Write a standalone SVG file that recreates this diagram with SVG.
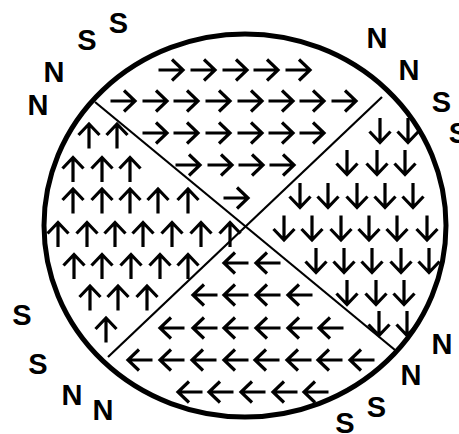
<svg xmlns="http://www.w3.org/2000/svg" xmlns:xlink="http://www.w3.org/1999/xlink" width="459" height="434" viewBox="0 0 459 434">
<style>
.a{fill:none;stroke:#000;stroke-width:3.2;stroke-linejoin:miter;stroke-linecap:butt}
.lbl{font-family:"Liberation Sans",Arial,sans-serif;font-weight:bold;font-size:29px;fill:#000;text-anchor:middle}
</style>
<defs>
<path id="r" class="a" d="M-12.5,0H11.5M1,-10.5L12,0L1,10.5"/>
<path id="l" class="a" d="M12.5,0H-11.5M-1,-10.5L-12,0L-1,10.5"/>
<path id="u" class="a" d="M0,12.5V-11.5M-10.5,-1L0,-12L10.5,-1"/>
<path id="d" class="a" d="M0,-12.5V11.5M-10.5,1L0,12L10.5,1"/>
</defs>
<rect width="459" height="434" fill="#fff"/>
<g id="circle">
<ellipse cx="245" cy="225.5" rx="201" ry="191.5" fill="none" stroke="#000" stroke-width="5"/>
<line x1="95" y1="102" x2="395" y2="350" stroke="#000" stroke-width="2.2"/>
<line x1="382" y1="97" x2="108" y2="357" stroke="#000" stroke-width="2.2"/>
</g>
<g id="right-arrows">
<use xlink:href="#r" x="171" y="70"/><use xlink:href="#r" x="203" y="70"/><use xlink:href="#r" x="235" y="70"/><use xlink:href="#r" x="266" y="70"/><use xlink:href="#r" x="298" y="70"/>
<use xlink:href="#r" x="123" y="101"/><use xlink:href="#r" x="155" y="101"/><use xlink:href="#r" x="186" y="101"/><use xlink:href="#r" x="218" y="101"/><use xlink:href="#r" x="250" y="101"/><use xlink:href="#r" x="281" y="101"/><use xlink:href="#r" x="312" y="101"/><use xlink:href="#r" x="344" y="101"/>
<use xlink:href="#r" x="155" y="133"/><use xlink:href="#r" x="186" y="133"/><use xlink:href="#r" x="218" y="133"/><use xlink:href="#r" x="250" y="133"/><use xlink:href="#r" x="281" y="133"/><use xlink:href="#r" x="312" y="133"/>
<use xlink:href="#r" x="188" y="165"/><use xlink:href="#r" x="220" y="165"/><use xlink:href="#r" x="251" y="165"/><use xlink:href="#r" x="282" y="165"/>
<use xlink:href="#r" x="236" y="198"/>
</g>
<g id="up-arrows">
<use xlink:href="#u" x="89" y="136"/><use xlink:href="#u" x="117" y="136"/>
<use xlink:href="#u" x="73" y="169.5"/><use xlink:href="#u" x="102" y="169.5"/><use xlink:href="#u" x="130" y="169.5"/>
<use xlink:href="#u" x="73" y="201"/><use xlink:href="#u" x="102" y="201"/><use xlink:href="#u" x="130" y="201"/><use xlink:href="#u" x="158" y="201"/><use xlink:href="#u" x="188" y="201"/>
<use xlink:href="#u" x="58" y="234.5"/><use xlink:href="#u" x="87" y="234.5"/><use xlink:href="#u" x="115" y="234.5"/><use xlink:href="#u" x="143" y="234.5"/><use xlink:href="#u" x="172" y="234.5"/><use xlink:href="#u" x="201" y="234.5"/><use xlink:href="#u" x="230" y="234.5"/>
<use xlink:href="#u" x="74" y="266.5"/><use xlink:href="#u" x="102" y="266.5"/><use xlink:href="#u" x="131" y="266.5"/><use xlink:href="#u" x="160" y="266.5"/><use xlink:href="#u" x="188" y="266.5"/>
<use xlink:href="#u" x="90" y="298"/><use xlink:href="#u" x="118" y="298"/><use xlink:href="#u" x="147" y="298"/>
<use xlink:href="#u" x="106" y="330"/>
</g>
<g id="down-arrows">
<use xlink:href="#d" x="380" y="130.5"/><use xlink:href="#d" x="408" y="130.5"/>
<use xlink:href="#d" x="347" y="162.5"/><use xlink:href="#d" x="377" y="162.5"/><use xlink:href="#d" x="405" y="162.5"/>
<use xlink:href="#d" x="300" y="195.5"/><use xlink:href="#d" x="328" y="195.5"/><use xlink:href="#d" x="357" y="195.5"/><use xlink:href="#d" x="385" y="195.5"/><use xlink:href="#d" x="413" y="195.5"/>
<use xlink:href="#d" x="284" y="228"/><use xlink:href="#d" x="312" y="228"/><use xlink:href="#d" x="341" y="228"/><use xlink:href="#d" x="369" y="228"/><use xlink:href="#d" x="397" y="228"/><use xlink:href="#d" x="427" y="228"/>
<use xlink:href="#d" x="316" y="260.5"/><use xlink:href="#d" x="344" y="260.5"/><use xlink:href="#d" x="372" y="260.5"/><use xlink:href="#d" x="401" y="260.5"/><use xlink:href="#d" x="429" y="260.5"/>
<use xlink:href="#d" x="347" y="292.5"/><use xlink:href="#d" x="376" y="292.5"/><use xlink:href="#d" x="404" y="292.5"/>
<use xlink:href="#d" x="379" y="323.5"/><use xlink:href="#d" x="407" y="323.5"/>
</g>
<g id="left-arrows">
<use xlink:href="#l" x="236" y="263"/><use xlink:href="#l" x="268" y="263"/>
<use xlink:href="#l" x="205" y="295"/><use xlink:href="#l" x="236" y="295"/><use xlink:href="#l" x="268" y="295"/><use xlink:href="#l" x="300" y="295"/>
<use xlink:href="#l" x="172" y="328"/><use xlink:href="#l" x="205" y="328"/><use xlink:href="#l" x="236" y="328"/><use xlink:href="#l" x="268" y="328"/><use xlink:href="#l" x="300" y="328"/><use xlink:href="#l" x="331" y="328"/>
<use xlink:href="#l" x="140" y="360"/><use xlink:href="#l" x="172" y="360"/><use xlink:href="#l" x="204" y="360"/><use xlink:href="#l" x="236" y="360"/><use xlink:href="#l" x="267" y="360"/><use xlink:href="#l" x="299" y="360"/><use xlink:href="#l" x="330" y="360"/><use xlink:href="#l" x="362" y="360"/>
<use xlink:href="#l" x="190" y="392"/><use xlink:href="#l" x="221" y="392"/><use xlink:href="#l" x="253" y="392"/><use xlink:href="#l" x="285" y="392"/><use xlink:href="#l" x="316" y="392"/>
</g>
<g id="labels">
<text class="lbl" x="118.5" y="33">S</text>
<text class="lbl" x="87" y="50">S</text>
<text class="lbl" x="54" y="82">N</text>
<text class="lbl" x="38" y="115">N</text>
<text class="lbl" x="377" y="48">N</text>
<text class="lbl" x="409" y="80">N</text>
<text class="lbl" x="441.5" y="112">S</text>
<text class="lbl" x="458.5" y="143">S</text>
<text class="lbl" x="22" y="325">S</text>
<text class="lbl" x="38" y="374">S</text>
<text class="lbl" x="72" y="405">N</text>
<text class="lbl" x="103" y="420">N</text>
<text class="lbl" x="442" y="354">N</text>
<text class="lbl" x="411" y="385">N</text>
<text class="lbl" x="376.5" y="417">S</text>
<text class="lbl" x="345" y="433">S</text>
</g>
</svg>
